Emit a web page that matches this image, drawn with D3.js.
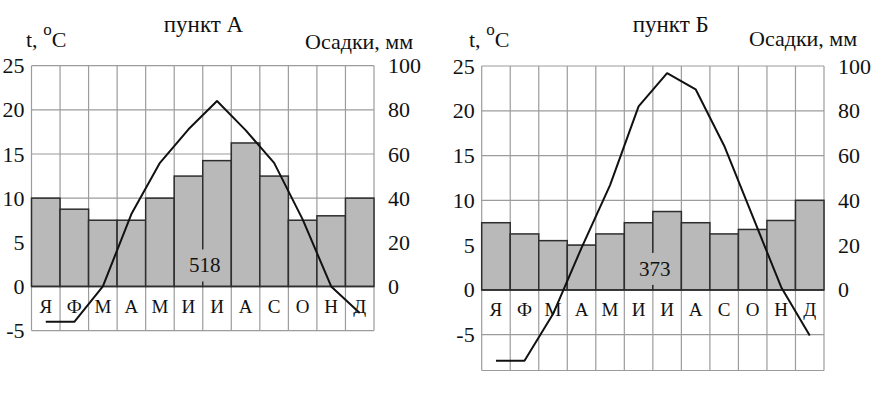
<!DOCTYPE html>
<html><head><meta charset="utf-8">
<script src="https://cdn.jsdelivr.net/npm/d3@7"></script>
<style>body{margin:0;background:#fff}svg{display:block}svg text{font-family:"Times New Roman",serif !important;fill:#111}</style>
</head><body><svg id="c" width="888" height="394"></svg>
<script>
const months = ["Я","Ф","М","А","М","И","И","А","С","О","Н","Д"];
const tempTicks = [-5,0,5,10,15,20,25];
const precipTicks = [0,20,40,60,80,100];
const titles = ["пункт А","пункт Б"];
const totals = ["518","373"];
const tempA = [-4,-4,0,8.2,14,17.8,21,17.7,14,7.6,0,-3];
const precipA = [40,35,30,30,40,50,57,65,50,30,32,40];
const tempB = [-7.9,-7.9,-2.7,4.7,11.7,20.5,24.2,22.4,16.1,8.2,0.3,-5.1];
const precipB = [30,25,22,20,25,30,35,30,25,27,31,40];

const SERIF = '"Times New Roman",serif';
const svg = d3.select("#c");
const layouts = [
  {x0:31.5,x1:374,yTop:65.7,yMin:-5,yBottom:330.6,titleX:203.5,tempLblX:26,precipLblX:305,precipLblY:49,labelY:313},
  {x0:481.7,x1:824,yTop:66,yMin:-9,yBottom:370.5,titleX:670.7,tempLblX:469,precipLblX:749,precipLblY:46,labelY:316}
];
const datasets = [[tempA,precipA],[tempB,precipB]];
const barFill = "#b9b9b9";

layouts.forEach((L,i)=>{
  const [temp,precip] = datasets[i];
  const g = svg.append("g");
  const x = d3.scaleBand().domain(d3.range(12)).range([L.x0,L.x1]).padding(0);
  const y = d3.scaleLinear().domain([L.yMin,25]).range([L.yBottom,L.yTop]);
  const yP = d3.scaleLinear().domain([0,100]).range([y(0),y(25)]);
  const gridC = "#9c9c9c";
  const hLines = tempTicks.filter(t=>t>=L.yMin).concat(L.yMin<-5?[L.yMin]:[]);
  g.selectAll(".h").data(hLines).join("line")
    .attr("x1",L.x0).attr("x2",L.x1).attr("y1",d=>y(d)).attr("y2",d=>y(d))
    .attr("stroke",gridC).attr("stroke-width",1.2);
  const vx = d3.range(13).map(k=>k<12?x(k):L.x1);
  g.selectAll(".v").data(vx).join("line")
    .attr("x1",d=>d).attr("x2",d=>d).attr("y1",y(25)).attr("y2",y(L.yMin))
    .attr("stroke",gridC).attr("stroke-width",1.2);
  g.selectAll(".bar").data(precip).join("rect")
    .attr("x",(d,k)=>x(k)).attr("width",x.bandwidth())
    .attr("y",d=>yP(d)).attr("height",d=>yP(0)-yP(d))
    .attr("fill",barFill).attr("stroke","#2e2e2e").attr("stroke-width",1.5);
  g.append("line").attr("x1",L.x0).attr("x2",L.x1).attr("y1",y(0)).attr("y2",y(0))
    .attr("stroke","#2e2e2e").attr("stroke-width",1.5);
  const cx = x(6);
  g.append("rect").attr("x",cx-16).attr("y",y(0)-37).attr("width",32).attr("height",32).attr("fill",barFill);
  g.append("text").attr("x",cx+2).attr("y",y(0)-14).attr("text-anchor","middle")
    .attr("font-size",21).text(totals[i]);
  g.selectAll(".m").data(months).join("text")
    .attr("x",(d,k)=>x(k)+x.bandwidth()/2).attr("y",L.labelY)
    .attr("text-anchor","middle").attr("font-size",19).text(d=>d);
  const line = d3.line().x((d,k)=>x(k)+x.bandwidth()/2).y(d=>y(d));
  g.append("path").datum(temp).attr("d",line).attr("fill","none")
    .attr("stroke","#111").attr("stroke-width",2).attr("stroke-linejoin","round");
  const axL = d3.axisLeft(y).tickValues(tempTicks).tickSize(0).tickPadding(7).tickFormat(d=>String(d));
  const gl = g.append("g").attr("transform",`translate(${L.x0},0)`).call(axL)
    .attr("font-family",SERIF).attr("font-size",22);
  gl.select(".domain").remove();
  gl.selectAll("text").style("font-family",SERIF).attr("fill","#111");
  const axR = d3.axisRight(yP).tickValues(precipTicks).tickSize(0).tickPadding(14).tickFormat(d=>String(d));
  const gr = g.append("g").attr("transform",`translate(${L.x1},0)`).call(axR)
    .attr("font-family",SERIF).attr("font-size",22);
  gr.select(".domain").remove();
  gr.selectAll("text").style("font-family",SERIF).attr("fill","#111");
  g.append("text").attr("x",L.titleX).attr("y",32).attr("text-anchor","middle").attr("font-size",23).text(titles[i]);
  const t = g.append("text").attr("x",L.tempLblX).attr("y",47).attr("font-size",22);
  t.append("tspan").text("t, ");
  t.append("tspan").attr("dy",-12).attr("font-size",17).text("o");
  t.append("tspan").attr("dy",12).text("C");
  g.append("text").attr("x",L.precipLblX).attr("y",L.precipLblY).attr("font-size",22).text("Осадки, мм");
});
</script></body></html>
